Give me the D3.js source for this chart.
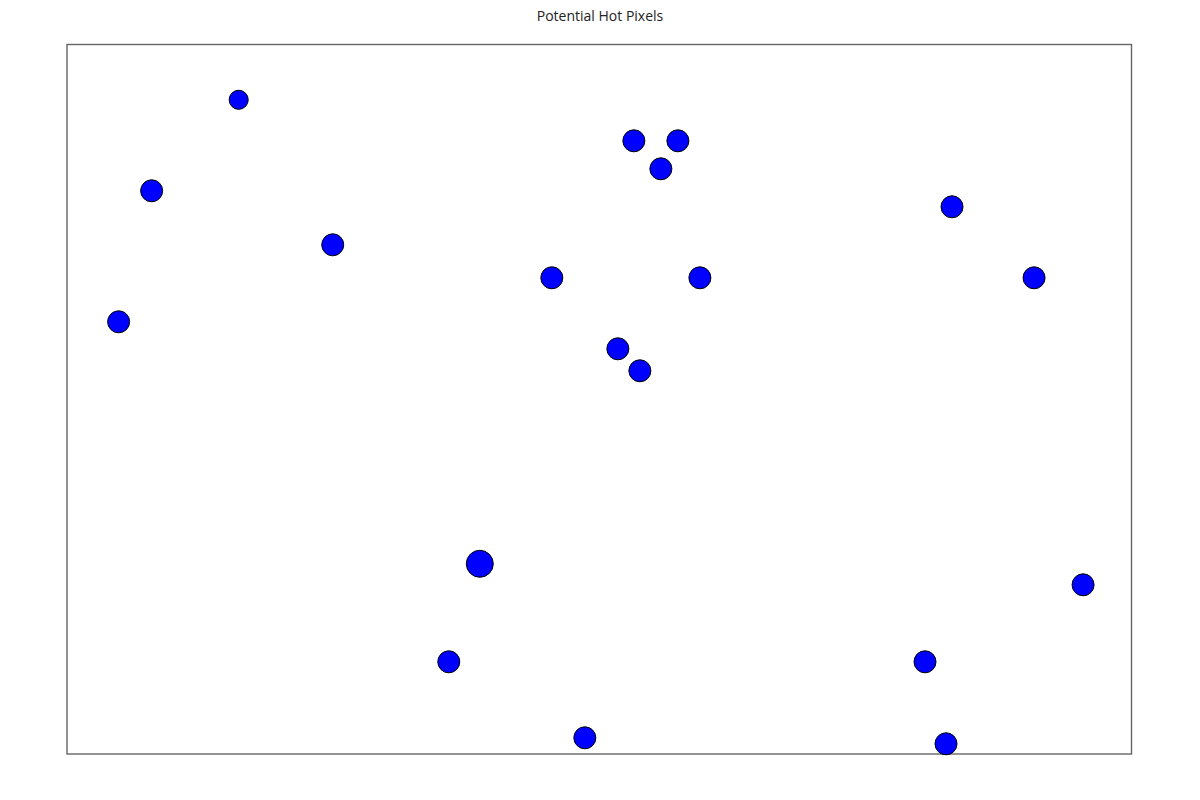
<!DOCTYPE html>
<html>
<head>
<meta charset="utf-8">
<script src="https://cdn.jsdelivr.net/npm/d3@7"></script>
<style>
  body { margin: 0; background: #fff; }
  svg { display: block; font-family: "Open Sans", sans-serif; }
</style>
</head>
<body>
<svg id="chart" width="1200" height="800"></svg>
<script>
// Hot pixel candidates: column, row (detector pixels) and signal
const pixelX = [171, 84, 265, 51, 566, 610, 593, 484, 632, 884, 966, 550, 572, 412, 1015, 381, 857, 517, 878];
const pixelY = [55, 146, 200, 277, 96, 96, 124, 233, 233, 162, 233, 304, 326, 519, 540, 617, 617, 693, 699];
const signal = [100, 133, 133, 133, 133, 133, 133, 133, 133, 133, 133, 133, 133, 200, 133, 133, 133, 133, 133];

const width = 1200;
const height = 800;
const margin = { top: 44.5, right: 68.5, bottom: 46, left: 67 };

const svg = d3.select('#chart');

const x = d3.scaleLinear()
    .domain([0, 1064])
    .range([margin.left + 0.6, width - margin.right + 0.6]);

const y = d3.scaleLinear()
    .domain([0, 709.5])
    .range([margin.top + 0.3, height - margin.bottom + 0.3]);

const r = d3.scaleSqrt()
    .domain([0, 200])
    .range([0, 13.5]);

// Title
svg.append('text')
    .attr('x', width / 2)
    .attr('y', 20.5)
    .attr('text-anchor', 'middle')
    .attr('font-size', 14)
    .attr('fill', '#222')
    .text('Potential Hot Pixels');

// Frame
svg.append('rect')
    .attr('x', margin.left)
    .attr('y', margin.top)
    .attr('width', width - margin.left - margin.right)
    .attr('height', height - margin.top - margin.bottom)
    .attr('fill', 'none')
    .attr('stroke', '#666')
    .attr('stroke-width', 1.4);

// Points
const points = pixelX.map((px, i) => ({ x: px, y: pixelY[i], s: signal[i] }));

svg.append('g')
    .selectAll('circle')
    .data(points)
    .join('circle')
    .attr('cx', d => x(d.x))
    .attr('cy', d => y(d.y))
    .attr('r', d => r(d.s))
    .attr('fill', '#0000ff')
    .attr('stroke', '#000')
    .attr('stroke-width', 1);
</script>
</body>
</html>
